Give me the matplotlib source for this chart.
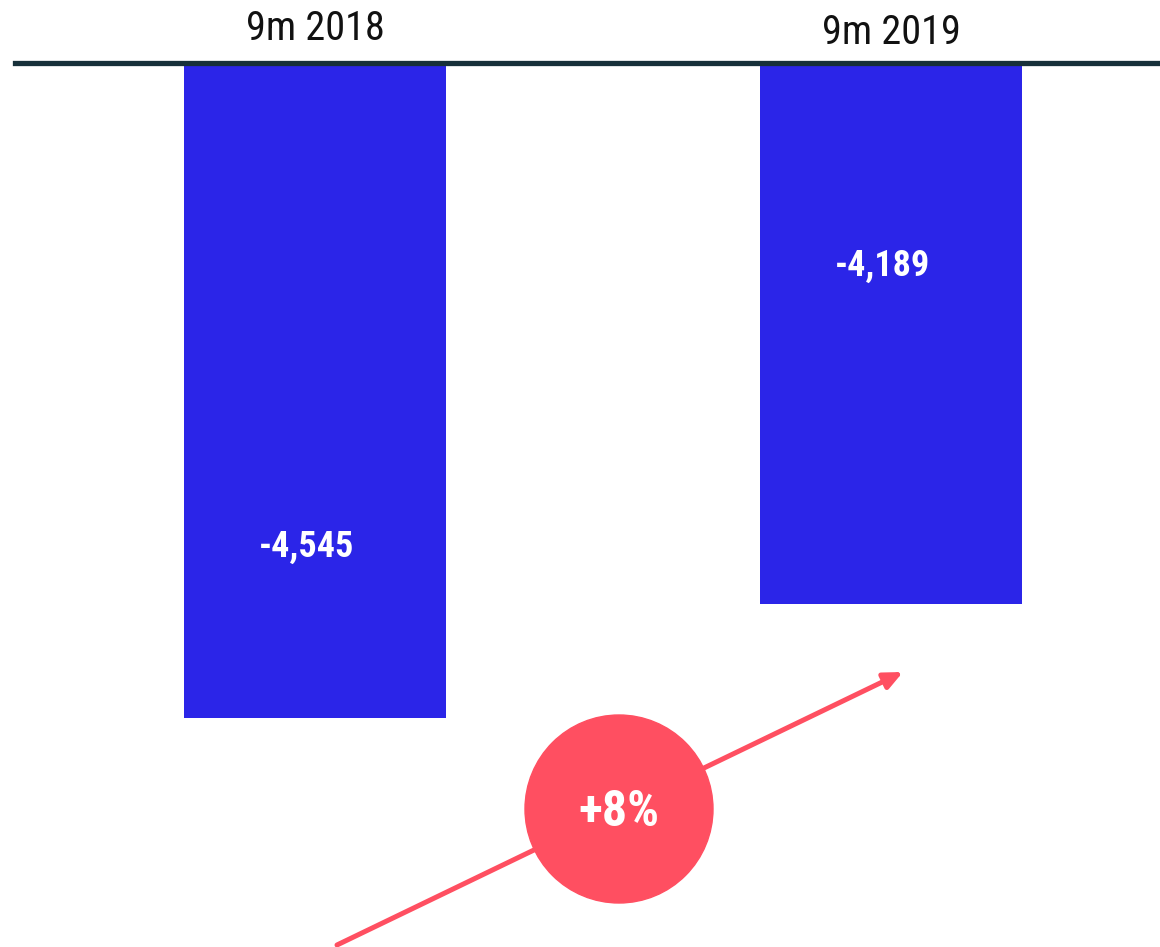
import matplotlib
matplotlib.use("Agg")
import matplotlib.pyplot as plt
from matplotlib.patches import Circle
from matplotlib import font_manager as fm

categories = ["9m 2018", "9m 2019"]
values = [-4545, -4189]
value_labels = ["-4,545", "-4,189"]
label_y = [-4011, -3134]
change_label = "+8%"

BLUE = "#2B25E8"
RED = "#FF4F61"
DARK = "#17303A"

names = {f.name for f in fm.fontManager.ttflist}
FONT = [n for n in ["Roboto Condensed", "Liberation Sans Narrow", "Roboto", "DejaVu Sans"] if n in names]

W, H = 1160, 947
fig = plt.figure(figsize=(W / 100, H / 100), dpi=100)

ax = fig.add_axes([15 / W, 0, (W - 15) / W, (H - 63) / H])
x = list(range(len(categories)))
ax.bar(x, values, width=0.455, color=BLUE, zorder=2)
ax.set_xlim(-0.5208, 1.467)
ax.set_ylim(-5260, -2500)

for s in ["left", "right", "bottom"]:
    ax.spines[s].set_visible(False)
ax.spines["top"].set_color(DARK)
ax.spines["top"].set_linewidth(3.8)
ax.spines["top"].set_zorder(3)
ax.set_yticks([])
ax.set_xticks([])

cat_offsets = [11, 8]  # points above the top line
for xi, cat, off in zip(x, categories, cat_offsets):
    ax.annotate(cat, xy=(xi, 1), xycoords=("data", "axes fraction"),
                xytext=(0, off), textcoords="offset points",
                ha="center", va="bottom", fontsize=29, family=FONT,
                color="#111111", annotation_clip=False)

for xi, ly, lab in zip(x, label_y, value_labels):
    ax.text(xi - 0.014, ly, lab, ha="center", va="center", color="white",
            fontsize=26, fontweight="bold", family=FONT, zorder=4)

ov = fig.add_axes([0, 0, 1, 1])
ov.set_xlim(0, W)
ov.set_ylim(H, 0)
ov.axis("off")
ov.annotate("", xy=(903, 672), xytext=(337, 945),
            arrowprops=dict(arrowstyle="-|>,head_length=1.1,head_width=0.5",
                            color=RED, lw=3.6, shrinkA=0, shrinkB=0))
ov.add_patch(Circle((619, 809), 94, color=RED, zorder=3))
ov.text(619, 812, change_label, ha="center", va="center", color="white",
        fontsize=36, fontweight="bold", family=FONT, zorder=4)

fig.savefig("out.png", dpi=100)
